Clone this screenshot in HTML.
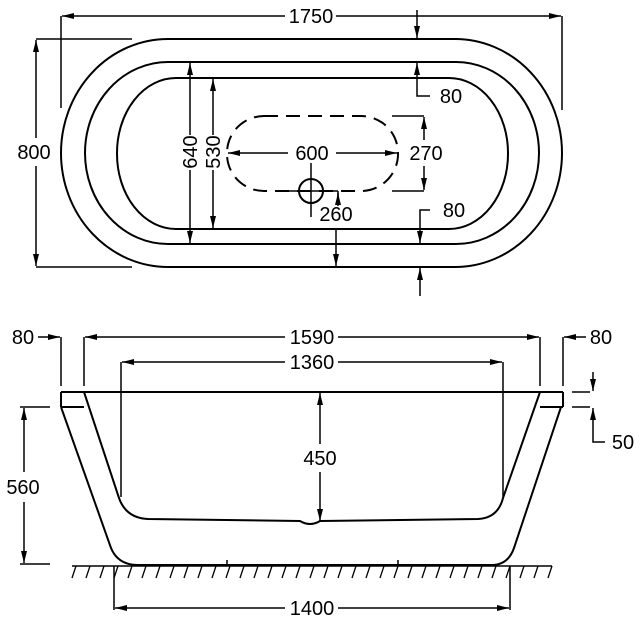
<!DOCTYPE html>
<html><head><meta charset="utf-8"><style>
html,body{margin:0;padding:0;background:#fff;}
svg{display:block;}
text{font-family:"Liberation Sans",Arial,sans-serif;font-size:20px;fill:#000;}
</style></head><body>
<svg width="640" height="640" viewBox="0 0 640 640" xmlns="http://www.w3.org/2000/svg">
<defs>
<marker id="a" viewBox="0 0 12 6" refX="12" refY="3" markerWidth="12" markerHeight="6" markerUnits="userSpaceOnUse" orient="auto-start-reverse">
<path d="M0,0 L12,3 L0,6 z" fill="#000"/>
</marker>
</defs>
<g fill="none" stroke="#000" stroke-width="2">
<!-- TOP VIEW -->
<rect x="61" y="39" width="501" height="228" rx="107" ry="114"/>
<rect x="85" y="62" width="454" height="182" rx="83" ry="91"/>
<rect x="117" y="78" width="391" height="151" rx="59" ry="75"/>
<rect x="227" y="116" width="171" height="75" rx="37" ry="37" stroke-dasharray="14,8"/>
<!-- 1750 -->
<line x1="61" y1="16" x2="61" y2="108" stroke-width="1.5"/>
<line x1="562" y1="16" x2="562" y2="110" stroke-width="1.5"/>
<line x1="285" y1="16" x2="62" y2="16" marker-end="url(#a)" stroke-width="1.5"/>
<line x1="336" y1="16" x2="561" y2="16" marker-end="url(#a)" stroke-width="1.5"/>
<!-- 800 -->
<line x1="36" y1="39" x2="132" y2="39" stroke-width="1.5"/>
<line x1="36" y1="267" x2="132" y2="267" stroke-width="1.5"/>
<line x1="36" y1="138" x2="36" y2="40" marker-end="url(#a)" stroke-width="1.5"/>
<line x1="36" y1="166" x2="36" y2="266" marker-end="url(#a)" stroke-width="1.5"/>
<!-- 640 -->
<line x1="190" y1="135" x2="190" y2="63" marker-end="url(#a)" stroke-width="1.5"/>
<line x1="190" y1="170" x2="190" y2="243" marker-end="url(#a)" stroke-width="1.5"/>
<!-- 530 -->
<line x1="213" y1="135" x2="213" y2="79" marker-end="url(#a)" stroke-width="1.5"/>
<line x1="213" y1="170" x2="213" y2="228" marker-end="url(#a)" stroke-width="1.5"/>
<!-- 600 -->
<line x1="288" y1="153" x2="228" y2="153" marker-end="url(#a)" stroke-width="1.5"/>
<line x1="336" y1="153" x2="397" y2="153" marker-end="url(#a)" stroke-width="1.5"/>
<!-- 270 -->
<line x1="392" y1="116" x2="424" y2="116" stroke-width="1.5"/>
<line x1="392" y1="191" x2="424" y2="191" stroke-width="1.5"/>
<line x1="424" y1="140" x2="424" y2="117" marker-end="url(#a)" stroke-width="1.5"/>
<line x1="424" y1="166" x2="424" y2="190" marker-end="url(#a)" stroke-width="1.5"/>
<!-- drain -->
<circle cx="311" cy="191" r="12"/>
<line x1="311" y1="163" x2="311" y2="217" stroke-width="1.5"/>
<line x1="285" y1="191" x2="338" y2="191" stroke-width="1.5"/>
<line x1="338" y1="191" x2="338" y2="200" stroke-width="1.5"/>
<line x1="338" y1="206" x2="338" y2="193" marker-end="url(#a)" stroke-width="1.5"/>
<!-- top 80 -->
<line x1="417" y1="10" x2="417" y2="38" marker-end="url(#a)" stroke-width="1.5"/>
<polyline points="430,96 417,96 417,63" stroke-width="1.5" marker-end="url(#a)"/>
<!-- bottom 80 -->
<polyline points="430,210 420,210 420,243" stroke-width="1.5" marker-end="url(#a)"/>
<line x1="420" y1="296" x2="420" y2="268" marker-end="url(#a)" stroke-width="1.5"/>
<line x1="336" y1="229" x2="336" y2="266" marker-end="url(#a)" stroke-width="1.5"/>

<!-- SIDE VIEW -->
<line x1="61" y1="392" x2="563" y2="392"/>
<line x1="61" y1="392" x2="61" y2="407"/>
<line x1="563" y1="392" x2="563" y2="407"/>
<line x1="61" y1="407" x2="84" y2="407"/>
<line x1="540" y1="407" x2="563" y2="407"/>
<path d="M61,407 L111,548 Q118,565 138,565 L492,565 Q508,565 514,548 L561,407"/>
<path d="M84,392 L119,498 Q126,518 148,519 L300,521 Q310,527 320,521 L478,519 Q498,518 503,498 L540,392"/>
<!-- 1590 -->
<line x1="84" y1="337" x2="84" y2="386" stroke-width="1.5"/>
<line x1="540" y1="337" x2="540" y2="386" stroke-width="1.5"/>
<line x1="285" y1="337" x2="85" y2="337" marker-end="url(#a)" stroke-width="1.5"/>
<line x1="338" y1="337" x2="539" y2="337" marker-end="url(#a)" stroke-width="1.5"/>
<!-- 1360 -->
<line x1="121" y1="362" x2="121" y2="497" stroke-width="1.5"/>
<line x1="503" y1="362" x2="503" y2="497" stroke-width="1.5"/>
<line x1="285" y1="362" x2="122" y2="362" marker-end="url(#a)" stroke-width="1.5"/>
<line x1="338" y1="362" x2="502" y2="362" marker-end="url(#a)" stroke-width="1.5"/>
<!-- 80 left/right -->
<line x1="61" y1="337" x2="61" y2="386" stroke-width="1.5"/>
<line x1="38" y1="337" x2="60" y2="337" marker-end="url(#a)" stroke-width="1.5"/>
<line x1="563" y1="337" x2="563" y2="386" stroke-width="1.5"/>
<line x1="586" y1="337" x2="564" y2="337" marker-end="url(#a)" stroke-width="1.5"/>
<!-- 50 -->
<line x1="572" y1="392" x2="590" y2="392" stroke-width="1.5"/>
<line x1="572" y1="407" x2="590" y2="407" stroke-width="1.5"/>
<line x1="593" y1="372" x2="593" y2="391" marker-end="url(#a)" stroke-width="1.5"/>
<polyline points="605,442 593,442 593,408" marker-end="url(#a)" stroke-width="1.5"/>
<!-- 450 -->
<line x1="320" y1="444" x2="320" y2="393" marker-end="url(#a)" stroke-width="1.5"/>
<line x1="320" y1="472" x2="320" y2="521" marker-end="url(#a)" stroke-width="1.5"/>
<!-- 560 -->
<line x1="20" y1="407" x2="50" y2="407" stroke-width="1.5"/>
<line x1="20" y1="564" x2="50" y2="564" stroke-width="1.5"/>
<line x1="24" y1="472" x2="24" y2="408" marker-end="url(#a)" stroke-width="1.5"/>
<line x1="24" y1="502" x2="24" y2="563" marker-end="url(#a)" stroke-width="1.5"/>
<!-- ground -->
<line x1="72" y1="566" x2="552" y2="566" stroke-width="1.5"/>
<line x1="227" y1="560" x2="227" y2="566" stroke-width="1.5"/>
<line x1="398" y1="560" x2="398" y2="566" stroke-width="1.5"/>
<!-- 1400 -->
<line x1="114" y1="566" x2="114" y2="610" stroke-width="1.5"/>
<line x1="510" y1="566" x2="510" y2="610" stroke-width="1.5"/>
<line x1="285" y1="608" x2="115" y2="608" marker-end="url(#a)" stroke-width="1.5"/>
<line x1="338" y1="608" x2="509" y2="608" marker-end="url(#a)" stroke-width="1.5"/>
</g>
<g stroke="#000" stroke-width="1.3" id="hatch">
<line x1="76" y1="566" x2="72" y2="578"/><line x1="90" y1="566" x2="86" y2="578"/><line x1="104" y1="566" x2="100" y2="578"/><line x1="118" y1="566" x2="114" y2="578"/><line x1="132" y1="566" x2="128" y2="578"/><line x1="146" y1="566" x2="142" y2="578"/><line x1="160" y1="566" x2="156" y2="578"/><line x1="174" y1="566" x2="170" y2="578"/><line x1="188" y1="566" x2="184" y2="578"/><line x1="202" y1="566" x2="198" y2="578"/><line x1="216" y1="566" x2="212" y2="578"/><line x1="230" y1="566" x2="226" y2="578"/><line x1="244" y1="566" x2="240" y2="578"/><line x1="258" y1="566" x2="254" y2="578"/><line x1="272" y1="566" x2="268" y2="578"/><line x1="286" y1="566" x2="282" y2="578"/><line x1="300" y1="566" x2="296" y2="578"/><line x1="314" y1="566" x2="310" y2="578"/><line x1="328" y1="566" x2="324" y2="578"/><line x1="342" y1="566" x2="338" y2="578"/><line x1="356" y1="566" x2="352" y2="578"/><line x1="370" y1="566" x2="366" y2="578"/><line x1="384" y1="566" x2="380" y2="578"/><line x1="398" y1="566" x2="394" y2="578"/><line x1="412" y1="566" x2="408" y2="578"/><line x1="426" y1="566" x2="422" y2="578"/><line x1="440" y1="566" x2="436" y2="578"/><line x1="454" y1="566" x2="450" y2="578"/><line x1="468" y1="566" x2="464" y2="578"/><line x1="482" y1="566" x2="478" y2="578"/><line x1="496" y1="566" x2="492" y2="578"/><line x1="510" y1="566" x2="506" y2="578"/><line x1="524" y1="566" x2="520" y2="578"/><line x1="538" y1="566" x2="534" y2="578"/><line x1="552" y1="566" x2="548" y2="578"/>
</g>
<g text-anchor="middle">
<text x="311" y="23">1750</text>
<text x="34" y="159">800</text>
<text x="312" y="160">600</text>
<text x="426" y="160">270</text>
<text x="336" y="221">260</text>
<text x="451" y="103">80</text>
<text x="454" y="217">80</text>
<text transform="translate(197,152) rotate(-90)">640</text>
<text transform="translate(220,152) rotate(-90)">530</text>
<text x="312" y="344">1590</text>
<text x="312" y="369">1360</text>
<text x="23" y="344">80</text>
<text x="601" y="344">80</text>
<text x="623" y="449">50</text>
<text x="320" y="465">450</text>
<text x="23" y="494">560</text>
<text x="312" y="615">1400</text>
</g>
</svg>
</body></html>
